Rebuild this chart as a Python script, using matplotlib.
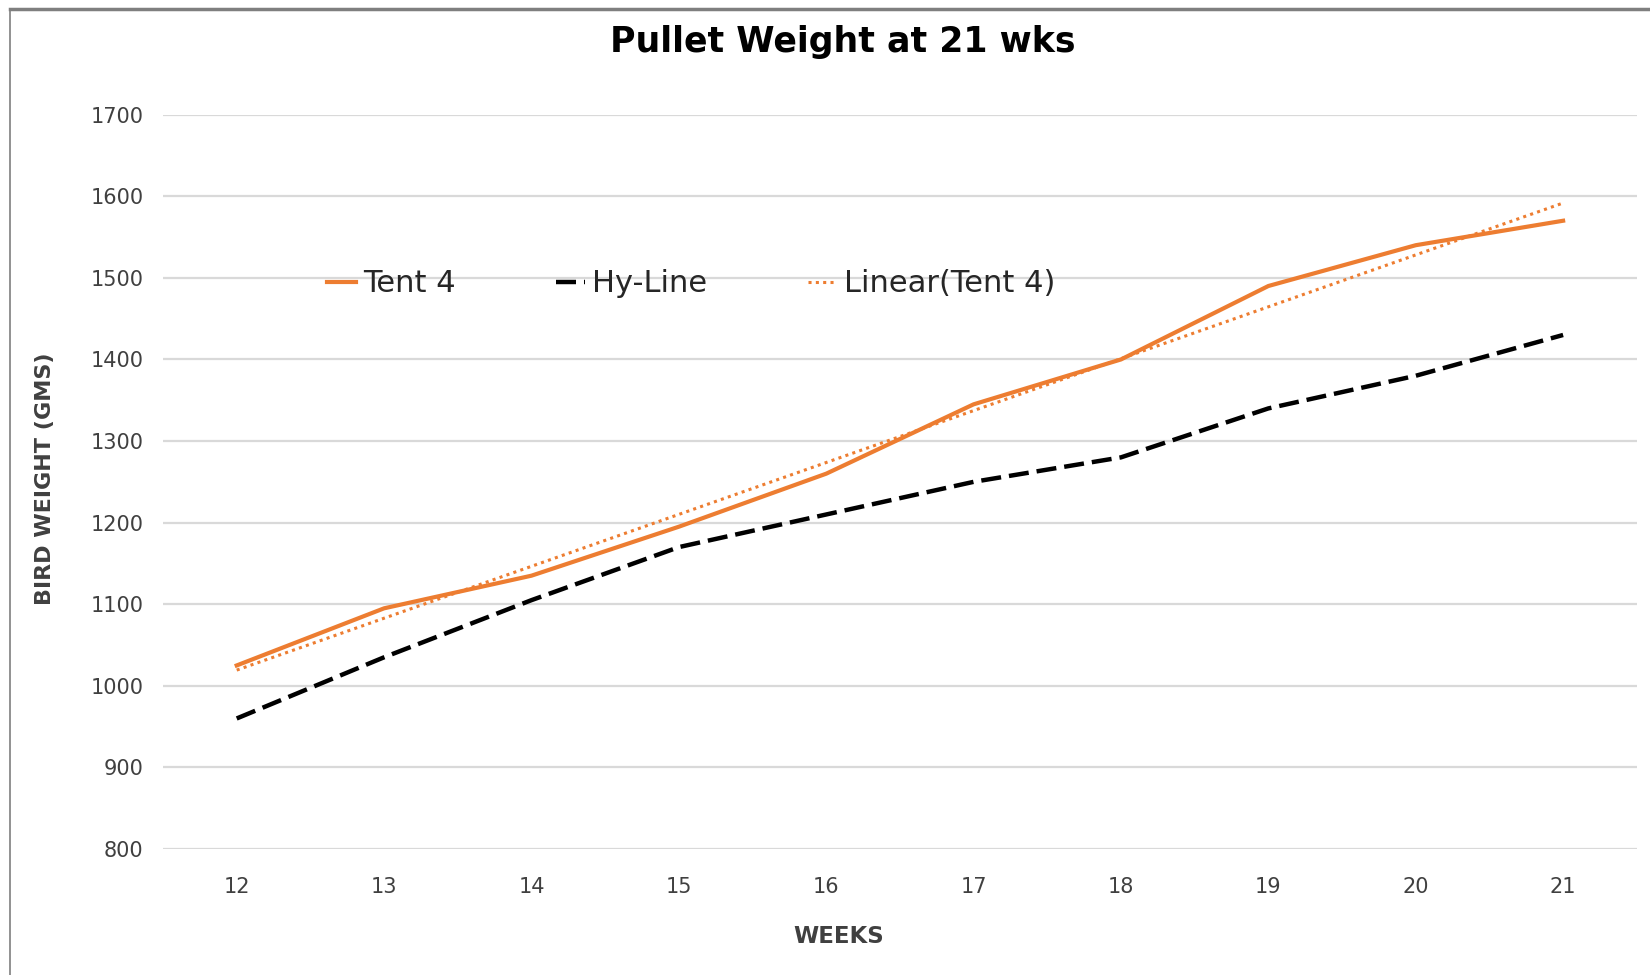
import numpy as np
import matplotlib.pyplot as plt
from matplotlib.lines import Line2D

plt.rcParams.update({'font.family': 'DejaVu Sans'})

# Data
weeks = [12, 13, 14, 15, 16, 17, 18, 19, 20, 21]
tent4 = [1025, 1095, 1135, 1195, 1260, 1345, 1400, 1490, 1540, 1570]
hyline = [960, 1035, 1105, 1170, 1210, 1250, 1280, 1340, 1380, 1430]
yticks = [800, 900, 1000, 1100, 1200, 1300, 1400, 1500, 1600, 1700]

orange = '#ED7D31'

fig = plt.figure(figsize=(16.5, 9.75), dpi=100)
ax = fig.add_axes([0.0988, 0.1292, 0.8932, 0.7532])

# linear trendline of Tent 4
k, b = np.polyfit(weeks, tent4, 1)
trend = np.polyval([k, b], weeks)

ax.plot(weeks, tent4, color=orange, lw=3, label='Tent 4', zorder=3)
ax.plot(weeks, hyline, color='black', lw=3.2, dashes=(4.5, 1.8), label='Hy-Line', zorder=3)
ax.plot(weeks, trend, color=orange, lw=2.2, dashes=(1, 1.4), label='Linear(Tent 4)', zorder=4)

ax.set_xlim(11.5, 21.5)
ax.set_ylim(800, 1700)
ax.set_xticks(weeks)
ax.set_yticks(yticks)
ax.grid(axis='y', color='#d9d9d9', lw=1.6)
ax.set_axisbelow(True)
for s in ax.spines.values():
    s.set_visible(False)
ax.tick_params(length=0, labelsize=15, labelcolor='#404040')
ax.tick_params(axis='x', pad=20)
ax.tick_params(axis='y', pad=14)

# axis titles placed like the Excel chart
fig.text(0.508, 0.0395, 'WEEKS', fontsize=16.5, fontweight='bold', color='#404040',
         ha='center', va='center')
fig.text(0.027, 0.509, 'BIRD WEIGHT (GMS)', fontsize=16, fontweight='bold', color='#404040',
         ha='center', va='center', rotation=90)

fig.text(0.511, 0.957, 'Pullet Weight at 21 wks', fontsize=25, fontweight='bold',
         ha='center', va='center')

leg = ax.legend(loc='center left', bbox_to_anchor=(0.198, 0.709), bbox_transform=fig.transFigure,
                ncol=3, frameon=False, fontsize=22, handlelength=0.95, handletextpad=0.23,
                columnspacing=3.3, borderpad=0, borderaxespad=0)
for t in leg.get_texts():
    t.set_color('#262626')

# chart border (top and left visible in the reference)
fig.add_artist(Line2D([0.006, 1.0], [0.991, 0.991], transform=fig.transFigure, color='#7f7f7f', lw=2.5))
fig.add_artist(Line2D([0.006, 0.006], [0.0, 0.991], transform=fig.transFigure, color='#7f7f7f', lw=1.2))

fig.savefig('out.png', dpi=100)
